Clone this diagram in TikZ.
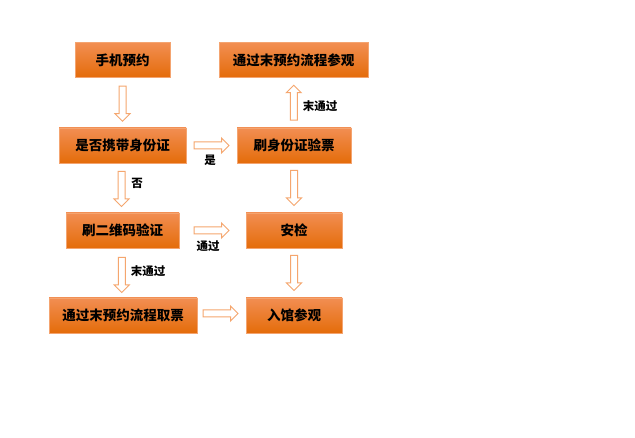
\documentclass[tikz,border=0pt]{standalone}
\usepackage{fontspec}
\setmainfont{Noto Sans CJK SC}
\usetikzlibrary{calc}
\definecolor{boxtop}{HTML}{F28E52}
\definecolor{boxbot}{HTML}{E46C0A}
\definecolor{boxedge}{HTML}{F4A470}
\definecolor{arrowc}{HTML}{F5A66E}
\begin{document}
\begin{tikzpicture}[x=1pt,y=-1pt,
  box/.style={rectangle, draw=boxedge, line width=0.8pt, top color=boxtop, bottom color=boxbot,
    minimum height=35pt, inner sep=0pt, font=\fontsize{13.5}{15}\selectfont\bfseries, text=black},
  barrow/.pic={\draw[draw=arrowc, fill=white, line width=1pt, line join=miter]
    (-17.5,-3.5) -- (10,-3.5) -- (10,-7.5) -- (17.5,0) -- (10,7.5) -- (10,3.5) -- (-17.5,3.5) -- cycle;},
  lbl/.style={font=\fontsize{11.5}{13}\selectfont\bfseries, text=black, inner sep=0pt}]
\useasboundingbox (0,0) rectangle (635,438);
\fill[white] (0,0) rectangle (635,438);
\node[box, minimum width=95pt] (b1) at (122.5,60) {手机预约};
\node[box, minimum width=149pt] (b2) at (293.5,60) {通过末预约流程参观};
\node[box, minimum width=127pt] (b3) at (122.5,145.5) {是否携带身份证};
\node[box, minimum width=114pt] (b4) at (294,145.5) {刷身份证验票};
\node[box, minimum width=113pt] (b5) at (122.5,230.5) {刷二维码验证};
\node[box, minimum width=96pt] (b6) at (294,230.5) {安检};
\node[box, minimum width=148pt] (b7) at (123,315.5) {通过末预约流程取票};
\node[box, minimum width=96pt] (b8) at (294,315.5) {入馆参观};
\coordinate (m1) at ($(b1.south)!0.5!(b3.north)+(0,1)$);
\coordinate (m2) at ($(b4.north)!0.5!(b2.south)$);
\coordinate (m3) at ($(b3.east)!0.5!(b4.west)$);
\coordinate (m4) at ($(b3.south)!0.5!(b5.north)+(-1,1)$);
\coordinate (m5) at ($(b4.south)!0.5!(b6.north)$);
\coordinate (m6) at ($(b5.east)!0.5!(b6.west)+(-1,0)$);
\coordinate (m7) at ($(b5.south)!0.5!(b7.north)+(-1,2)$);
\coordinate (m8) at ($(b6.south)!0.5!(b8.north)$);
\coordinate (m9) at ($(b7.east)!0.5!(b8.west)+(-1,-2)$);
\pic[rotate=-90] at (m1) {barrow};
\pic[rotate=90] at (m2) {barrow};
\pic at (m3) {barrow};
\pic[rotate=-90] at (m4) {barrow};
\pic[rotate=-90] at (m5) {barrow};
\pic at (m6) {barrow};
\pic[rotate=-90] at (m7) {barrow};
\pic[rotate=-90] at (m8) {barrow};
\pic at (m9) {barrow};
\node[lbl] (l1) at (210,160) {是};
\node[lbl] (l2) at (320,106) {末通过};
\node[lbl] (l3) at (137,183) {否};
\node[lbl] (l4) at (208,246) {通过};
\node[lbl] (l5) at (148,271) {末通过};
\end{tikzpicture}
\end{document}
